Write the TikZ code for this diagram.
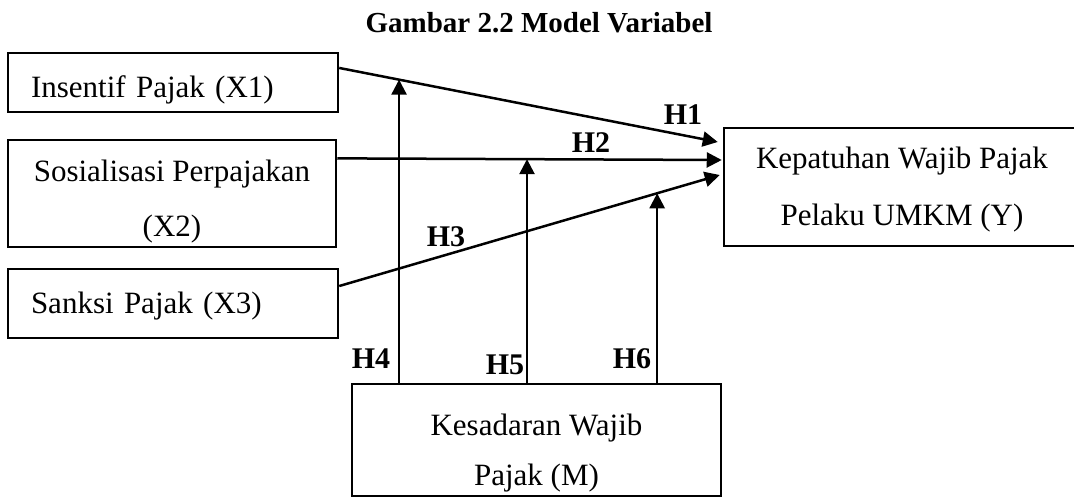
\documentclass[tikz,border=0pt]{standalone}
\usepackage{fontspec}
\setmainfont{Liberation Serif}
\usetikzlibrary{arrows.meta}

% pushes the text of a box a little down
\newcommand{\topgap}[1]{\rule{0pt}{#1}}

\tikzset{
  varbox/.style={draw, line width=2.5pt, inner sep=0pt, font=\fontsize{31}{55}\selectfont},
  hlabel/.style={font=\fontsize{30}{36}\selectfont\bfseries},
  arr/.style={line width=2.5pt, -{Triangle[length=15pt,width=15pt]}}
}

\begin{document}
\begin{tikzpicture}[x=1pt,y=-1pt]
\useasboundingbox (0,0) rectangle (1074,497);
\node[font=\fontsize{29}{34}\selectfont\bfseries] (title) at (539,23) {Gambar 2.2 Model Variabel};

% independent variables
\node[varbox, minimum width=330pt, minimum height=59pt, text width=284pt, align=left] (X1) at (173,82.5) {\topgap{37.5pt}Insentif Pajak (X1)};
\node[varbox, minimum width=328pt, minimum height=107pt, align=center] (X2) at (172,193.5) {\topgap{37.5pt}Sosialisasi Perpajakan\\(X2)};
\node[varbox, minimum width=330pt, minimum height=69pt, text width=284pt, align=left] (X3) at (173,303.5) {\topgap{27.5pt}Sanksi Pajak (X3)};

% dependent and moderating variable
\node[varbox, font=\fontsize{31}{57}\selectfont, minimum width=356pt, minimum height=118pt, align=center] (Y) at (902,187) {\topgap{26.5pt}Kepatuhan Wajib Pajak\\Pelaku UMKM (Y)};
\node[varbox, font=\fontsize{31}{50}\selectfont, minimum width=369pt, minimum height=112pt, align=center] (M) at (536.5,440) {\topgap{47.5pt}Kesadaran Wajib\\Pajak (M)};

\coordinate (t1) at ([shift={(-5pt,45pt)}]Y.west);
\coordinate (t2) at ([shift={(-1pt,27pt)}]Y.west);
\coordinate (t3) at ([shift={(-3pt,12pt)}]Y.west);

% direct paths
\draw[arr] (X1.5) -- coordinate[pos=0.158] (h4) (t1);
\draw[arr] (X2.12) -- coordinate[pos=0.4935] (h5) (t2);
\draw[arr] (X3.6) -- coordinate[pos=0.8355] (h6) (t3);

% moderation
\draw[arr] (M.north -| h4) -- (h4);
\draw[arr] (M.north -| h5) -- (h5);
\draw[arr] (M.north -| h6) -- (h6);

\node[hlabel] (H1) at (683,115) {H1};
\node[hlabel] (H2) at (591,143) {H2};
\node[hlabel] (H3) at (446,237) {H3};
\node[hlabel] (H4) at (371,359) {H4};
\node[hlabel] (H5) at (505,365) {H5};
\node[hlabel] (H6) at (632,359) {H6};
\end{tikzpicture}
\end{document}
